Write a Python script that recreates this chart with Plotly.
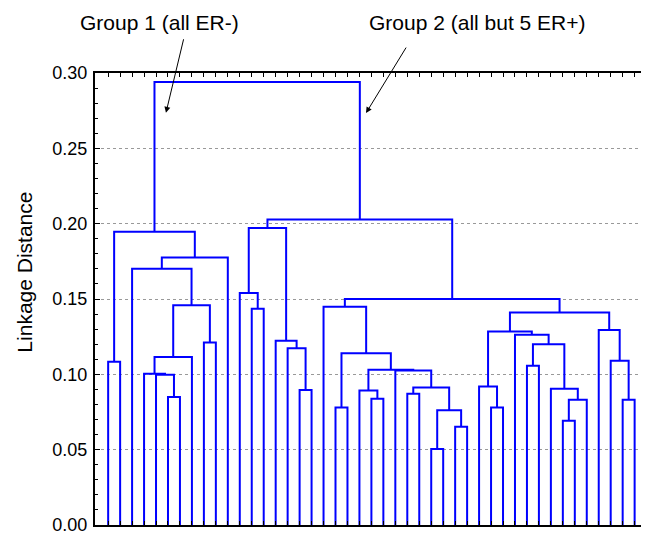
import plotly.graph_objects as go

# ---- data -------------------------------------------------------------
n_leaves = 45
# merges in order: (left, right, linkage distance); "L#" = leaf, "M#" = merge
merge_left = ["L1", "L6", "L5", "L4", "M4", "L9", "M5", "L3", "M8", "M1",
              "L13", "L12", "L17", "L16", "L15", "M12",
              "L20", "L23", "L22", "L26", "L28", "L30", "M21", "M20", "L25", "M19",
              "M17", "L19",
              "L33", "L32", "L36", "L39", "M32", "L38", "M31", "L35", "M30",
              "L44", "L43", "L42", "M37", "M28", "M16", "M10"]
merge_right = ["L2", "L7", "M2", "M3", "L8", "L10", "M6", "M7", "L11", "M9",
               "L14", "M11", "L18", "M13", "M14", "M15",
               "L21", "L24", "M18", "L27", "L29", "L31", "M22", "M23", "M24", "M25",
               "M26", "M27",
               "L34", "M29", "L37", "L40", "L41", "M33", "M34", "M35", "M36",
               "L45", "M38", "M39", "M40", "M41", "M42", "M43"]
merge_height = [0.1084, 0.0850, 0.0998, 0.1004, 0.1115, 0.1212, 0.1458, 0.1701, 0.1776, 0.1947,
                0.1436, 0.1540, 0.0896, 0.1173, 0.1223, 0.1971,
                0.0780, 0.0838, 0.0893, 0.0871, 0.0504, 0.0652, 0.0761, 0.0913, 0.1026, 0.1031,
                0.1140, 0.1449,
                0.0780, 0.0920, 0.1057, 0.0692, 0.0832, 0.0905, 0.1199, 0.1263, 0.1285,
                0.0832, 0.1090, 0.1294, 0.1411, 0.1500, 0.2028, 0.2940]

y_tick_vals = [0.00, 0.05, 0.10, 0.15, 0.20, 0.25, 0.30]
y_tick_text = ["0.00", "0.05", "0.10", "0.15", "0.20", "0.25", "0.30"]
y_title = "Linkage Distance"
group_labels = ["Group 1 (all ER-)", "Group 2 (all but 5 ER+)"]

# ---- build dendrogram links -----------------------------------------
pos = {f"L{i}": (float(i), 0.0) for i in range(1, n_leaves + 1)}
xs, ys = [], []
for k, (a, b, h) in enumerate(zip(merge_left, merge_right, merge_height), start=1):
    xa, ha = pos[a]
    xb, hb = pos[b]
    xs += [xa, xa, xb, xb, None]
    ys += [ha, h, h, hb, None]
    pos[f"M{k}"] = ((xa + xb) / 2.0, h)

font_family = "Liberation Sans, Arial, Helvetica, sans-serif"

# page body has an 8px margin: figure coords = window coords - 8
W, H = 641, 526
L, T, R, B = 87, 65, 3, 9
PW = W - L - R

fig = go.Figure()
fig.add_trace(go.Scatter(x=xs, y=ys, mode="lines",
                         line=dict(color="#0000FF", width=2),
                         hoverinfo="skip", showlegend=False))

fig.update_layout(
    width=W, height=H,
    margin=dict(l=L, r=R, t=T, b=B, autoexpand=False),
    paper_bgcolor="white", plot_bgcolor="white",
    font=dict(family=font_family, size=20, color="black"),
    showlegend=False,
)
fig.update_xaxes(
    range=[-0.1, 45.95],
    tickvals=list(range(1, n_leaves + 1)),
    showticklabels=False,
    ticks="inside", ticklen=4, tickwidth=1, tickcolor="black",
    showgrid=False, zeroline=False, automargin=False,
    showline=True, linecolor="black", linewidth=2, mirror="ticks",
)
fig.update_yaxes(
    range=[0, 0.30],
    tickvals=y_tick_vals, ticktext=y_tick_text,
    ticks="inside", ticklen=5, tickwidth=1, tickcolor="black",
    minor=dict(dtick=0.01, ticks="inside", ticklen=3, tickwidth=1, tickcolor="black", showgrid=False),
    showgrid=True, gridcolor="#999999", gridwidth=1, griddash="dot",
    zeroline=False, automargin=False,
    showline=True, linecolor="black", linewidth=2, mirror="ticks",
    tickfont=dict(size=18),
    ticklabelstandoff=2,
    ticklabeloverflow="allow",
)

# y-axis title
fig.add_annotation(text=y_title, xref="paper", yref="y", x=0, y=0.1675,
                   xanchor="center", yanchor="middle", xshift=25 - 95, textangle=-90,
                   showarrow=False, font=dict(size=21))
# group labels
fig.add_annotation(text=group_labels[0], xref="paper", yref="paper", x=(159 - 95) / PW, y=1,
                   xanchor="center", yanchor="middle", yshift=73 - 22, showarrow=False,
                   font=dict(size=21))
fig.add_annotation(text=group_labels[1], xref="paper", yref="paper", x=(477.5 - 95) / PW, y=1,
                   xanchor="center", yanchor="middle", yshift=73 - 22, showarrow=False,
                   font=dict(size=21))
# arrows
fig.add_annotation(text="", x=5.83, y=0.2736, xref="x", yref="y", ax=18, ay=-75,
                   axref="pixel", ayref="pixel", showarrow=True, arrowhead=2,
                   arrowsize=1.2, arrowwidth=1, arrowcolor="black", standoff=0)
fig.add_annotation(text="", x=22.55, y=0.2734, xref="x", yref="y", ax=41, ay=-67,
                   axref="pixel", ayref="pixel", showarrow=True, arrowhead=2,
                   arrowsize=1.2, arrowwidth=1, arrowcolor="black", standoff=0)

fig.write_html("out.html")
